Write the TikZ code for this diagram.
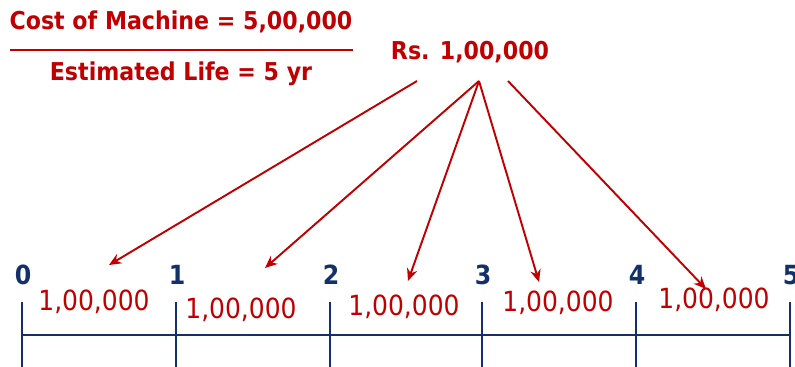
\documentclass[tikz,border=0pt]{standalone}
\usepackage{fontspec}
\setmainfont{DejaVu Sans Condensed}
\usetikzlibrary{arrows.meta,positioning}
\definecolor{dpred}{HTML}{C00000}
\definecolor{dpnavy}{HTML}{12306A}

\begin{document}
\begin{tikzpicture}[
  x=0.02cm, y=-0.02cm,
  head/.style={text=dpred, font=\fontsize{14}{16}\selectfont\bfseries, inner sep=0pt},
  amount/.style={text=dpred, font=\fontsize{15.8}{18}\selectfont, inner sep=0pt},
  year/.style={text=dpnavy, font=\fontsize{15}{17}\selectfont\bfseries, inner sep=0pt},
  axis/.style={draw=dpnavy, line width=1.2pt},
  share/.style={draw=dpred, line width=1.1pt, -{Stealth[length=7pt,width=6pt]}}
]
  \useasboundingbox (0,0) rectangle (795,367);

  % formula
  \node[head] (cost) at (181,22) {Cost of Machine = 5,00,000};
  \node[head] (life) at (181,74) {Estimated Life = 5 yr};
  \draw[dpred, line width=1.2pt] (10,50) -- (353,50);
  \node[head] (rs) at (470,52) {Rs. 1,00,000};

  % time line
  \coordinate (t0) at (22,335);
  \coordinate (t5) at (790,335);
  \draw[axis] (t0) -- (t5);
  \foreach \x/\n in {22/0,176/1,330/2,482/3,636/4,790/5} {
    \draw[axis] (\x,302) -- (\x,367);
    \node[year] (y\n) at (\x+1,275) {\n};
  }

  % yearly amounts
  \node[amount] (a1) at (94,302) {1,00,000};
  \node[amount] (a2) at (241,310) {1,00,000};
  \node[amount] (a3) at (404,307) {1,00,000};
  \node[amount] (a4) at (558,303) {1,00,000};
  \node[amount] (a5) at (714,300) {1,00,000};

  % spreading arrows
  \coordinate (left) at (417,81);
  \coordinate (apex) at (479,81);
  \coordinate (right) at (508,81);
  \coordinate (e1) at (109,265);
  \coordinate (e2) at (265,268);
  \coordinate (e3) at (408,281);
  \coordinate (e4) at (539,282);
  \coordinate (e5) at (706,289);
  \draw[share] (left) -- (e1);
  \draw[share] (apex) -- (e2);
  \draw[share] (apex) -- (e3);
  \draw[share] (apex) -- (e4);
  \draw[share] (right) -- (e5);
\end{tikzpicture}
\end{document}
